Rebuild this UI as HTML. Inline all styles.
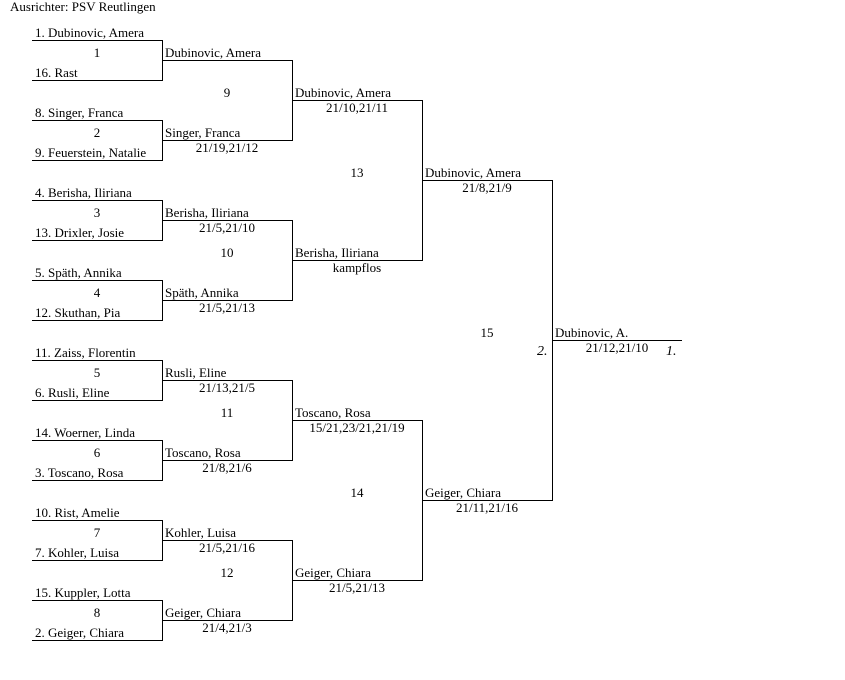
<!DOCTYPE html>
<html><head><meta charset="utf-8"><style>
html,body{margin:0;padding:0;background:#fff;width:845px;height:680px;overflow:hidden}
svg text{font-family:"Liberation Serif",serif;font-size:13px;fill:#000}
.c{text-anchor:middle}
</style></head><body>
<svg width="845" height="680" viewBox="0 0 845 680" xmlns="http://www.w3.org/2000/svg">
<g stroke="#000" stroke-width="1" fill="none" shape-rendering="crispEdges">
<path d="M32 40.5H162.5V80.5H32"/>
<path d="M32 120.5H162.5V160.5H32"/>
<path d="M32 200.5H162.5V240.5H32"/>
<path d="M32 280.5H162.5V320.5H32"/>
<path d="M32 360.5H162.5V400.5H32"/>
<path d="M32 440.5H162.5V480.5H32"/>
<path d="M32 520.5H162.5V560.5H32"/>
<path d="M32 600.5H162.5V640.5H32"/>
<path d="M162 60.5H292.5V140.5H162"/>
<path d="M162 220.5H292.5V300.5H162"/>
<path d="M162 380.5H292.5V460.5H162"/>
<path d="M162 540.5H292.5V620.5H162"/>
<path d="M292 100.5H422.5V260.5H292"/>
<path d="M292 420.5H422.5V580.5H292"/>
<path d="M422 180.5H552.5V500.5H422"/>
<path d="M552 340.5H682"/>
</g>
<text x="10" y="11">Ausrichter: PSV Reutlingen</text>
<text x="35" y="37">1. Dubinovic, Amera</text>
<text x="35" y="77">16. Rast</text>
<text x="35" y="117">8. Singer, Franca</text>
<text x="35" y="157">9. Feuerstein, Natalie</text>
<text x="35" y="197">4. Berisha, Iliriana</text>
<text x="35" y="237">13. Drixler, Josie</text>
<text x="35" y="277">5. Späth, Annika</text>
<text x="35" y="317">12. Skuthan, Pia</text>
<text x="35" y="357">11. Zaiss, Florentin</text>
<text x="35" y="397">6. Rusli, Eline</text>
<text x="35" y="437">14. Woerner, Linda</text>
<text x="35" y="477">3. Toscano, Rosa</text>
<text x="35" y="517">10. Rist, Amelie</text>
<text x="35" y="557">7. Kohler, Luisa</text>
<text x="35" y="597">15. Kuppler, Lotta</text>
<text x="35" y="637">2. Geiger, Chiara</text>
<text class="c" x="97" y="57">1</text>
<text class="c" x="97" y="137">2</text>
<text class="c" x="97" y="217">3</text>
<text class="c" x="97" y="297">4</text>
<text class="c" x="97" y="377">5</text>
<text class="c" x="97" y="457">6</text>
<text class="c" x="97" y="537">7</text>
<text class="c" x="97" y="617">8</text>
<text class="c" x="227" y="97">9</text>
<text class="c" x="227" y="257">10</text>
<text class="c" x="227" y="417">11</text>
<text class="c" x="227" y="577">12</text>
<text class="c" x="357" y="177">13</text>
<text class="c" x="357" y="497">14</text>
<text class="c" x="487" y="337">15</text>
<text x="165" y="57">Dubinovic, Amera</text>
<text x="165" y="137">Singer, Franca</text>
<text class="c" x="227" y="152">21/19,21/12</text>
<text x="165" y="217">Berisha, Iliriana</text>
<text class="c" x="227" y="232">21/5,21/10</text>
<text x="165" y="297">Späth, Annika</text>
<text class="c" x="227" y="312">21/5,21/13</text>
<text x="165" y="377">Rusli, Eline</text>
<text class="c" x="227" y="392">21/13,21/5</text>
<text x="165" y="457">Toscano, Rosa</text>
<text class="c" x="227" y="472">21/8,21/6</text>
<text x="165" y="537">Kohler, Luisa</text>
<text class="c" x="227" y="552">21/5,21/16</text>
<text x="165" y="617">Geiger, Chiara</text>
<text class="c" x="227" y="632">21/4,21/3</text>
<text x="295" y="97">Dubinovic, Amera</text>
<text class="c" x="357" y="112">21/10,21/11</text>
<text x="295" y="257">Berisha, Iliriana</text>
<text class="c" x="357" y="272">kampflos</text>
<text x="295" y="417">Toscano, Rosa</text>
<text class="c" x="357" y="432">15/21,23/21,21/19</text>
<text x="295" y="577">Geiger, Chiara</text>
<text class="c" x="357" y="592">21/5,21/13</text>
<text x="425" y="177">Dubinovic, Amera</text>
<text class="c" x="487" y="192">21/8,21/9</text>
<text x="425" y="497">Geiger, Chiara</text>
<text class="c" x="487" y="512">21/11,21/16</text>
<text x="555" y="337">Dubinovic, A.</text>
<text class="c" x="617" y="352">21/12,21/10</text>
<text x="537" y="355" font-style="italic" style="font-size:14px">2.</text>
<text x="666" y="355" font-style="italic" style="font-size:14px">1.</text>
</svg>
</body></html>
